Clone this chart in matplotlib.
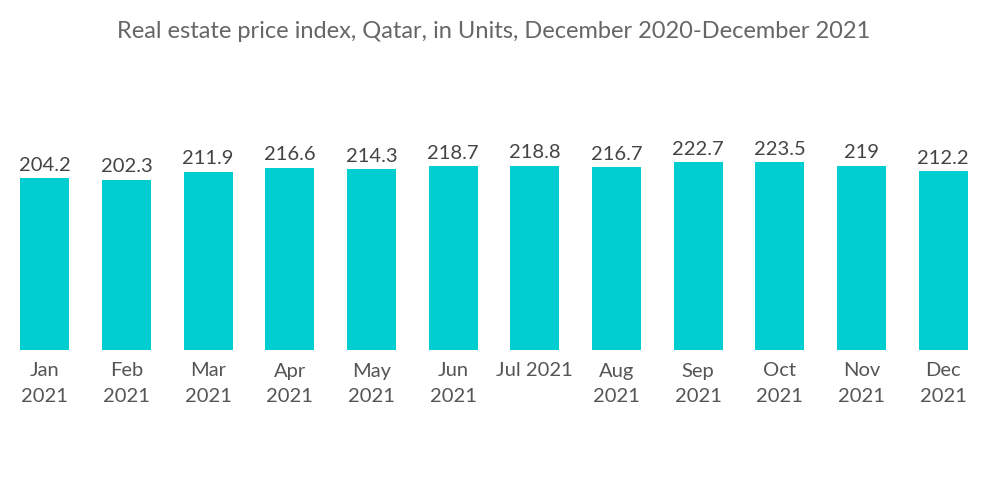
import numpy as np
import matplotlib.pyplot as plt

plt.rcParams['font.family'] = ['Lato', 'DejaVu Sans']

# data
months = ["Jan\n2021", "Feb\n2021", "Mar\n2021", "Apr\n2021", "May\n2021", "Jun\n2021",
          "Jul 2021", "Aug\n2021", "Sep\n2021", "Oct\n2021", "Nov\n2021", "Dec\n2021"]
values = [204.2, 202.3, 211.9, 216.6, 214.3, 218.7, 218.8, 216.7, 222.7, 223.5, 219, 212.2]
value_labels = ["204.2", "202.3", "211.9", "216.6", "214.3", "218.7",
                "218.8", "216.7", "222.7", "223.5", "219", "212.2"]

fig = plt.figure(figsize=(10, 5.04), dpi=100)
ax = fig.add_axes([0.004, 1 - 350 / 504, 0.98, 219 / 504])

x = np.arange(len(months))
bars = ax.bar(x, values, width=0.6, color='#00CED1')

for b, lab in zip(bars, value_labels):
    ax.text(b.get_x() + b.get_width() / 2, b.get_height() + 5, lab,
            ha='center', va='bottom', fontsize=14.5, color='#444444')

ax.set_xlim(-0.5, len(months) - 0.5)
ax.set_ylim(0, 260)
ax.set_xticks(x)
ax.set_xticklabels(months, fontsize=14.5, color='#555555', linespacing=1.6)
ax.tick_params(axis='x', length=0, pad=9)
ax.set_yticks([])
for s in ax.spines.values():
    s.set_visible(False)

fig.text(0.494, 0.938, "Real estate price index, Qatar, in Units, December 2020-December 2021",
         ha='center', va='center', fontsize=17, color='#666666')

fig.savefig('out.png', dpi=100, facecolor='white')
